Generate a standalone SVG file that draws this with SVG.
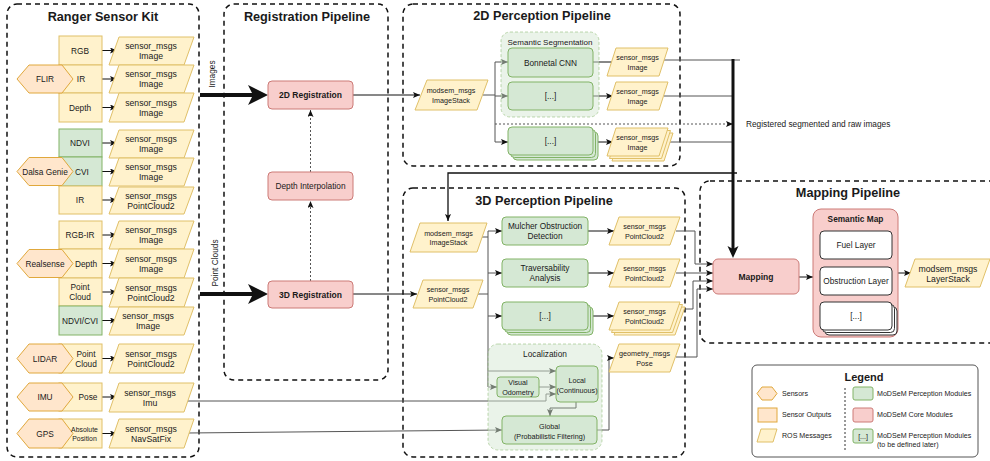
<svg xmlns="http://www.w3.org/2000/svg" width="990" height="461" viewBox="0 0 990 461">
  <defs>
    <style>
      text { font-family: "Liberation Sans", Arial, Helvetica, sans-serif; fill: #1a1a1a; }
      .panel { fill: none; stroke: #111; stroke-width: 1.5; stroke-dasharray: 5 4; }
      .title { font-size: 12.7px; font-weight: bold; text-anchor: middle; dominant-baseline: central; }
      .t { font-size: 8.3px; text-anchor: middle; dominant-baseline: central; }
      .ts { font-size: 7.2px; text-anchor: middle; dominant-baseline: central; }
      .tm { font-size: 8.7px; text-anchor: middle; dominant-baseline: central; }
      .tb { font-size: 8.5px; font-weight: bold; text-anchor: middle; dominant-baseline: central; }
      .tl { font-size: 7.1px; text-anchor: start; dominant-baseline: central; }
      .out { fill: #fff2cc; stroke: #e0c068; stroke-width: 1; }
      .hex { fill: #ffe6cc; stroke: #e0a83c; stroke-width: 1; }
      .msg { fill: #fff2cc; stroke: #e0c068; stroke-width: 1; }
      .green { fill: #d5e8d4; stroke: #82b366; stroke-width: 1; }
      .red { fill: #f8cecc; stroke: #cc7a77; stroke-width: 1; }
      .white { fill: #fff; stroke: #333; stroke-width: 1; }
      .group { fill: #d5e8d4; fill-opacity: 0.5; stroke: #82b366; stroke-opacity: 0.5; stroke-dasharray: 3 2; }
      .ln { fill: none; stroke: #111; stroke-width: 1; }
      .gl { fill: none; stroke: #555; stroke-width: 1; }
      .dot { fill: none; stroke: #555; stroke-width: 1; stroke-dasharray: 2 2; }
    </style>
    <marker id="arr" markerWidth="8" markerHeight="7" refX="7" refY="3" orient="auto" markerUnits="userSpaceOnUse">
      <path d="M0,0 L7,3 L0,6 L1.5,3 z" fill="#111"/>
    </marker>
    <marker id="big" markerWidth="21" markerHeight="21" refX="8" refY="10" orient="auto" markerUnits="userSpaceOnUse">
      <path d="M0,0 L20,10 L0,20 L5,10 z" fill="#111"/>
    </marker>
    <marker id="mid" markerWidth="13" markerHeight="12" refX="5" refY="5.5" orient="auto" markerUnits="userSpaceOnUse">
      <path d="M0,0 L12,5.5 L0,11 L3,5.5 z" fill="#111"/>
    </marker>
  </defs>

  <rect width="990" height="461" fill="#fff"/>

  <!-- pipeline frames -->
  <g id="frames">
    <rect class="panel" x="7" y="4" width="192" height="453" rx="10"/>
    <text class="title" x="103" y="17">Ranger Sensor Kit</text>
    <rect class="panel" x="224" y="4" width="164" height="376" rx="10"/>
    <text class="title" x="307" y="17">Registration Pipeline</text>
    <rect class="panel" x="403" y="4" width="277" height="162" rx="10"/>
    <text class="title" x="542" y="16">2D Perception Pipeline</text>
    <rect class="panel" x="403" y="188" width="282" height="269" rx="10"/>
    <text class="title" x="544" y="201">3D Perception Pipeline</text>
    <rect class="panel" x="700" y="181" width="300" height="162" rx="10"/>
    <text class="title" x="848" y="193">Mapping Pipeline</text>
  </g>

  <!-- connectors -->
  <g id="connectors">
    <!-- sensor outputs to ROS messages -->
    <line class="ln" x1="102" y1="50.5" x2="117" y2="50.5" marker-end="url(#arr)"/>
    <line class="ln" x1="102" y1="79" x2="117" y2="79" marker-end="url(#arr)"/>
    <line class="ln" x1="102" y1="107.5" x2="117" y2="107.5" marker-end="url(#arr)"/>
    <line class="ln" x1="102" y1="143" x2="117" y2="143" marker-end="url(#arr)"/>
    <line class="ln" x1="102" y1="171.5" x2="117" y2="171.5" marker-end="url(#arr)"/>
    <line class="ln" x1="102" y1="200" x2="117" y2="200" marker-end="url(#arr)"/>
    <line class="ln" x1="102" y1="235" x2="117" y2="235" marker-end="url(#arr)"/>
    <line class="ln" x1="102" y1="263.5" x2="117" y2="263.5" marker-end="url(#arr)"/>
    <line class="ln" x1="102" y1="292" x2="117" y2="292" marker-end="url(#arr)"/>
    <line class="ln" x1="102" y1="320.5" x2="117" y2="320.5" marker-end="url(#arr)"/>
    <line class="ln" x1="102" y1="358.5" x2="117" y2="358.5" marker-end="url(#arr)"/>
    <line class="ln" x1="102" y1="397" x2="117" y2="397" marker-end="url(#arr)"/>
    <line class="ln" x1="102" y1="433.5" x2="117" y2="433.5" marker-end="url(#arr)"/>

    <!-- bundled inputs into registration -->
    <line x1="200" y1="95" x2="256" y2="95" stroke="#111" stroke-width="4" marker-end="url(#big)"/>
    <line x1="200" y1="294" x2="256" y2="294" stroke="#111" stroke-width="4" marker-end="url(#big)"/>
    <text class="t" transform="translate(212,74) rotate(-90)">Images</text>
    <text class="t" transform="translate(215,263) rotate(-90)">Point Clouds</text>

    <!-- registration internals -->
    <line class="dot" x1="310.5" y1="281" x2="310.5" y2="201" marker-end="url(#arr)"/>
    <line class="dot" x1="310.5" y1="172" x2="310.5" y2="110" marker-end="url(#arr)"/>

    <!-- registration outputs -->
    <line class="ln" x1="353" y1="95" x2="420" y2="95" marker-end="url(#arr)"/>
    <line class="ln" x1="353" y1="294" x2="417" y2="294" marker-end="url(#arr)"/>

    <!-- 2D perception fan-out -->
    <polyline class="gl" points="483,95 495,95"/>
    <line class="gl" x1="495" y1="62" x2="495" y2="142"/>
    <line class="gl" x1="495" y1="62" x2="508" y2="62" marker-end="url(#arr)"/>
    <line class="gl" x1="495" y1="96" x2="508" y2="96" marker-end="url(#arr)"/>
    <line class="gl" x1="495" y1="142" x2="508" y2="142" marker-end="url(#arr)"/>
    <line class="dot" x1="495" y1="124" x2="733" y2="124" marker-end="url(#arr)"/>
    <text class="t" x="746" y="124" style="text-anchor:start">Registered segmented and raw images</text>
    <line class="ln" x1="593" y1="62" x2="612" y2="62"/>
    <line class="ln" x1="593" y1="96" x2="613" y2="96" marker-end="url(#arr)"/>
    <line class="ln" x1="598" y1="142" x2="613" y2="142" marker-end="url(#arr)"/>
    <line class="gl" x1="664" y1="60" x2="740" y2="60"/>
    <line class="gl" x1="664" y1="96" x2="733" y2="96"/>
    <line class="gl" x1="668" y1="142" x2="733" y2="142"/>

    <!-- 2D results to mapping and back into 3D perception -->
    <line x1="733" y1="59" x2="733" y2="251" stroke="#111" stroke-width="3" marker-end="url(#mid)"/>
    <polyline class="ln" points="737,173 448,173 448,221" style="stroke-width:1.3" marker-end="url(#arr)"/>

    <!-- 3D perception fan-out -->
    <line class="gl" x1="482" y1="237" x2="488" y2="237"/>
    <line class="gl" x1="478" y1="294" x2="488" y2="294"/>
    <line class="gl" x1="488" y1="231" x2="488" y2="387"/>
    <line class="gl" x1="488" y1="231" x2="502" y2="231" marker-end="url(#arr)"/>
    <line class="gl" x1="488" y1="273" x2="502" y2="273" marker-end="url(#arr)"/>
    <line class="gl" x1="488" y1="316" x2="502" y2="316" marker-end="url(#arr)"/>
    <line class="gl" x1="488" y1="371" x2="556" y2="371" marker-end="url(#arr)"/>
    <line class="gl" x1="488" y1="387" x2="497" y2="387" marker-end="url(#arr)"/>
    <line class="ln" x1="588" y1="231" x2="614" y2="231" marker-end="url(#arr)"/>
    <line class="ln" x1="588" y1="273" x2="614" y2="273" marker-end="url(#arr)"/>
    <line class="ln" x1="593" y1="316" x2="614" y2="316" marker-end="url(#arr)"/>

    <!-- localization -->
    <line class="gl" x1="539" y1="387" x2="556" y2="387" marker-end="url(#arr)"/>
    <polyline class="gl" points="188,401 546,401 546,394 556,394" marker-end="url(#arr)"/>
    <polyline class="ln" points="576,402 576,408 550,408 550,416" marker-end="url(#arr)"/>
    <line class="gl" x1="187" y1="433" x2="502" y2="430" marker-end="url(#arr)"/>
    <polyline class="gl" points="597,430 609,430 609,358 614,358" marker-end="url(#arr)"/>

    <!-- 3D results into mapping -->
    <polyline class="gl" points="676,231 695,231 695,264 713,264" marker-end="url(#arr)"/>
    <line class="gl" x1="676" y1="273" x2="713" y2="273" marker-end="url(#arr)"/>
    <polyline class="gl" points="679,309 693,309 693,281 713,281" marker-end="url(#arr)"/>
    <polyline class="gl" points="676,357 697,357 697,289 713,289" marker-end="url(#arr)"/>

    <!-- mapping -->
    <line class="ln" x1="799" y1="277" x2="813" y2="277" marker-end="url(#arr)"/>
    <line class="ln" x1="898" y1="273" x2="911" y2="273" marker-end="url(#arr)"/>
  </g>

  <!-- FLIR -->
  <g id="flir">
    <rect class="out" x="59" y="36" width="43" height="29"/>
    <rect class="out" x="59" y="65" width="43" height="28"/>
    <rect class="out" x="59" y="93" width="43" height="29"/>
    <polygon class="hex" points="17,79 29,65 62,65 73,79 62,93 29,93"/>
    <text class="t" x="80" y="50.5">RGB</text>
    <text class="t" x="81" y="79">IR</text>
    <text class="t" x="80" y="107.5">Depth</text>
    <text class="t" x="45" y="79">FLIR</text>
  </g>
  <!-- Dalsa Genie -->
  <g id="dalsa">
    <rect class="green" x="59" y="129" width="43" height="28"/>
    <rect class="green" x="59" y="157" width="43" height="29"/>
    <rect class="out" x="59" y="186" width="43" height="28"/>
    <polygon class="hex" points="17,171.5 29,157.5 62,157.5 73,171.5 62,185.5 29,185.5"/>
    <text class="t" x="80" y="143">NDVI</text>
    <text class="t" x="82" y="171.5">CVI</text>
    <text class="t" x="80" y="200">IR</text>
    <text class="t" x="45" y="171.5">Dalsa Genie</text>
  </g>
  <!-- Realsense -->
  <g id="realsense">
    <rect class="out" x="59" y="221" width="43" height="28"/>
    <rect class="out" x="59" y="249" width="43" height="29"/>
    <rect class="out" x="59" y="278" width="43" height="28"/>
    <rect class="green" x="59" y="306" width="43" height="29"/>
    <polygon class="hex" points="17,263.5 29,249.5 62,249.5 73,263.5 62,277.5 29,277.5"/>
    <text class="t" x="80" y="235">RGB-IR</text>
    <text class="t" x="86" y="263.5">Depth</text>
    <text class="t" x="80" y="287">Point</text>
    <text class="t" x="80" y="297">Cloud</text>
    <text class="t" x="80" y="320.5">NDVI/CVI</text>
    <text class="t" x="45" y="263.5">Realsense</text>
  </g>
  <!-- LIDAR -->
  <g id="lidar">
    <rect class="out" x="59" y="344" width="43" height="29"/>
    <polygon class="hex" points="17,358.5 29,344 62,344 73,358.5 62,373 29,373"/>
    <text class="t" x="86" y="353.5">Point</text>
    <text class="t" x="86" y="363.5">Cloud</text>
    <text class="t" x="45" y="358.5">LIDAR</text>
  </g>
  <!-- IMU -->
  <g id="imu">
    <rect class="out" x="59" y="383" width="43" height="28"/>
    <polygon class="hex" points="17,397 29,383 62,383 73,397 62,411 29,411"/>
    <text class="t" x="88" y="397">Pose</text>
    <text class="t" x="45" y="397">IMU</text>
  </g>
  <!-- GPS -->
  <g id="gps">
    <rect class="out" x="59" y="419" width="43" height="29"/>
    <polygon class="hex" points="17,433.5 29,419 62,419 73,433.5 62,448 29,448"/>
    <text class="t" x="84.5" y="429" style="font-size:6.9px">Absolute</text>
    <text class="t" x="84.5" y="438" style="font-size:6.9px">Position</text>
    <text class="t" x="45" y="433.5">GPS</text>
  </g>

  <!-- ROS messages published by the sensors -->
  <g id="sensor-msgs">
    <polygon class="msg" points="119,37 194,37 184,65 109,65"/>
    <text class="tm" x="151" y="46">sensor_msgs</text><text class="tm" x="151" y="56">Image</text>
    <polygon class="msg" points="119,65 194,65 184,93 109,93"/>
    <text class="tm" x="151" y="74">sensor_msgs</text><text class="tm" x="151" y="84">Image</text>
    <polygon class="msg" points="119,93 194,93 184,122 109,122"/>
    <text class="tm" x="151" y="102.5">sensor_msgs</text><text class="tm" x="151" y="112.5">Image</text>
    <polygon class="msg" points="119,130 194,130 184,158 109,158"/>
    <text class="tm" x="151" y="139">sensor_msgs</text><text class="tm" x="151" y="149">Image</text>
    <polygon class="msg" points="119,158 194,158 184,186 109,186"/>
    <text class="tm" x="151" y="167">sensor_msgs</text><text class="tm" x="151" y="177">Image</text>
    <polygon class="msg" points="119,187 194,187 184,214 109,214"/>
    <text class="tm" x="151" y="195.5">sensor_msgs</text><text class="tm" x="151" y="205.5">PointCloud2</text>
    <polygon class="msg" points="119,221 194,221 184,249 109,249"/>
    <text class="tm" x="151" y="230">sensor_msgs</text><text class="tm" x="151" y="240">Image</text>
    <polygon class="msg" points="119,249 194,249 184,278 109,278"/>
    <text class="tm" x="151" y="258.5">sensor_msgs</text><text class="tm" x="151" y="268.5">Image</text>
    <polygon class="msg" points="119,278 194,278 184,307 109,307"/>
    <text class="tm" x="151" y="287.5">sensor_msgs</text><text class="tm" x="151" y="297.5">PointCloud2</text>
    <polygon class="msg" points="119,307 194,307 184,335 109,335"/>
    <text class="tm" x="148" y="316">sensor_msgs</text><text class="tm" x="148" y="326">Image</text>
    <polygon class="msg" points="119,344 194,344 184,373 109,373"/>
    <text class="tm" x="151" y="353.5">sensor_msgs</text><text class="tm" x="151" y="363.5">PointCloud2</text>
    <polygon class="msg" points="119,383 194,383 184,412 109,412"/>
    <text class="tm" x="150" y="392.5">sensor_msgs</text><text class="tm" x="150" y="402.5">Imu</text>
    <polygon class="msg" points="119,419 194,419 184,448 109,448"/>
    <text class="tm" x="151" y="428.5">sensor_msgs</text><text class="tm" x="151" y="438.5">NavSatFix</text>
  </g>

  <!-- registration -->
  <g id="reg-2d">
    <rect class="red" x="268" y="81" width="85" height="28" rx="4"/>
    <text class="tb" x="310.5" y="95">2D Registration</text>
  </g>
  <g id="depth-interp">
    <rect class="red" x="268" y="172" width="85" height="28" rx="4"/>
    <text class="t" x="310.5" y="186">Depth Interpolation</text>
  </g>
  <g id="reg-3d">
    <rect class="red" x="268" y="281" width="85" height="27" rx="4"/>
    <text class="tb" x="310.5" y="294.5">3D Registration</text>
  </g>

  <!-- 2D perception -->
  <g id="imagestack-2d">
    <polygon class="msg" points="427,80 488,80 477,110 415,110"/>
    <text class="ts" x="451" y="90.5">modsem_msgs</text><text class="ts" x="451" y="100">ImageStack</text>
  </g>
  <g id="semantic-segmentation">
    <rect class="group" x="501" y="32" width="98" height="85" rx="9"/>
    <text class="t" x="550" y="42" style="font-size:8px">Semantic Segmentation</text>
    <rect class="green" x="508" y="48" width="85" height="29" rx="4"/>
    <text class="t" x="550.5" y="62.5">Bonnetal CNN</text>
    <rect class="green" x="508" y="82" width="85" height="28" rx="4"/>
    <text class="t" x="550.5" y="96">[...]</text>
  </g>
  <g id="seg-other">
    <rect class="green" x="513" y="132" width="85" height="28" rx="4"/>
    <rect class="green" x="510.5" y="129.5" width="85" height="28" rx="4"/>
    <rect class="green" x="508" y="127" width="85" height="28" rx="4"/>
    <text class="t" x="550.5" y="141">[...]</text>
  </g>
  <g id="image-out-1">
    <polygon class="msg" points="616,48 668,48 659,76 607,76"/>
    <text class="ts" x="637.5" y="57.5">sensor_msgs</text><text class="ts" x="637.5" y="67">Image</text>
  </g>
  <g id="image-out-2">
    <polygon class="msg" points="616,82 668,82 659,110 607,110"/>
    <text class="ts" x="637.5" y="91.5">sensor_msgs</text><text class="ts" x="637.5" y="101">Image</text>
  </g>
  <g id="image-out-3">
    <polygon class="msg" points="621,133 673,133 664,161 612,161"/>
    <polygon class="msg" points="618.5,130.5 670.5,130.5 661.5,158.5 609.5,158.5"/>
    <polygon class="msg" points="616,128 668,128 659,156 607,156"/>
    <text class="ts" x="637.5" y="137.5">sensor_msgs</text><text class="ts" x="637.5" y="147">Image</text>
  </g>

  <!-- 3D perception -->
  <g id="imagestack-3d">
    <polygon class="msg" points="420,223 487,223 477,252 410,252"/>
    <text class="ts" x="448.5" y="233">modsem_msgs</text><text class="ts" x="448.5" y="242.5">ImageStack</text>
  </g>
  <g id="pointcloud-in">
    <polygon class="msg" points="423,280 483,280 473,308 413,308"/>
    <text class="ts" x="448" y="289.5">sensor_msgs</text><text class="ts" x="448" y="299">PointCloud2</text>
  </g>
  <g id="mulcher">
    <rect class="green" x="502" y="217" width="86" height="28" rx="4"/>
    <text class="t" x="545" y="226">Mulcher Obstruction</text>
    <text class="t" x="545" y="236">Detection</text>
  </g>
  <g id="traversability">
    <rect class="green" x="502" y="259" width="86" height="28" rx="4"/>
    <text class="t" x="545" y="268">Traversability</text>
    <text class="t" x="545" y="278">Analysis</text>
  </g>
  <g id="perception-3d-other">
    <rect class="green" x="507" y="307" width="86" height="28" rx="4"/>
    <rect class="green" x="504.5" y="304.5" width="86" height="28" rx="4"/>
    <rect class="green" x="502" y="302" width="86" height="28" rx="4"/>
    <text class="t" x="545" y="316">[...]</text>
  </g>
  <g id="pointcloud-out-1">
    <polygon class="msg" points="619,217 680,217 670,245 609,245"/>
    <text class="ts" x="644.5" y="226.5">sensor_msgs</text><text class="ts" x="644.5" y="236">PointCloud2</text>
  </g>
  <g id="pointcloud-out-2">
    <polygon class="msg" points="619,259 680,259 670,287 609,287"/>
    <text class="ts" x="644.5" y="268.5">sensor_msgs</text><text class="ts" x="644.5" y="278">PointCloud2</text>
  </g>
  <g id="pointcloud-out-3">
    <polygon class="msg" points="624,307 685,307 675,335 614,335"/>
    <polygon class="msg" points="621.5,304.5 682.5,304.5 672.5,332.5 611.5,332.5"/>
    <polygon class="msg" points="619,302 680,302 670,330 609,330"/>
    <text class="ts" x="644.5" y="311.5">sensor_msgs</text><text class="ts" x="644.5" y="321">PointCloud2</text>
  </g>
  <g id="localization">
    <rect class="group" x="488" y="344" width="114" height="106" rx="10"/>
    <text class="t" x="545" y="354">Localization</text>
  </g>
  <g id="visual-odometry">
    <rect class="green" x="497" y="377" width="42" height="20" rx="3"/>
    <text class="ts" x="518" y="382.5">Visual</text>
    <text class="ts" x="518" y="392">Odometry</text>
  </g>
  <g id="local">
    <rect class="green" x="556" y="366" width="42" height="36" rx="4"/>
    <text class="ts" x="577" y="380">Local</text>
    <text class="ts" x="577" y="390">(Continuous)</text>
  </g>
  <g id="global">
    <rect class="green" x="502" y="416" width="95" height="28" rx="4"/>
    <text class="ts" x="549.5" y="426">Global</text>
    <text class="ts" x="549.5" y="436">(Probabilistic Filtering)</text>
  </g>
  <g id="pose-out">
    <polygon class="msg" points="619,344 680,344 670,372 609,372"/>
    <text class="ts" x="644.5" y="353.5">geometry_msgs</text><text class="ts" x="644.5" y="363">Pose</text>
  </g>

  <!-- mapping -->
  <g id="mapping">
    <rect class="red" x="713" y="259" width="86" height="35" rx="5"/>
    <text class="tb" x="756" y="276.5">Mapping</text>
  </g>
  <g id="semantic-map">
    <rect class="red" x="813" y="209" width="85" height="128" rx="8"/>
    <text class="tb" x="855.5" y="219" style="font-size:8.3px">Semantic Map</text>
    <rect class="white" x="820" y="231" width="72" height="28" rx="4"/>
    <text class="t" x="856" y="245">Fuel Layer</text>
    <rect class="white" x="820" y="267" width="72" height="28" rx="4"/>
    <text class="t" x="856" y="281">Obstruction Layer</text>
    <rect class="white" x="825" y="307" width="72" height="28" rx="4"/>
    <rect class="white" x="822.5" y="304.5" width="72" height="28" rx="4"/>
    <rect class="white" x="820" y="302" width="72" height="28" rx="4"/>
    <text class="t" x="856" y="316">[...]</text>
  </g>
  <g id="layerstack">
    <polygon class="msg" points="915,259 990,259 980,287 905,287"/>
    <text class="tm" x="948" y="268.5">modsem_msgs</text><text class="tm" x="948" y="279">LayerStack</text>
  </g>

  <!-- legend -->
  <g id="legend">
    <rect x="752" y="365" width="226" height="92" rx="5" fill="#fff" stroke="#555" stroke-width="1"/>
    <text x="864" y="377" style="font-size:11px;font-weight:bold;text-anchor:middle;dominant-baseline:central">Legend</text>
    <polygon class="hex" points="757,393.5 762,387 772,387 777,393.5 772,400 762,400"/>
    <text class="tl" x="782" y="393.5">Sensors</text>
    <rect x="758" y="408" width="19" height="14" fill="#ffe6cc" stroke="#e0a83c"/>
    <text class="tl" x="782" y="415">Sensor Outputs</text>
    <polygon class="msg" points="761,429 777,429 773,442 757,442"/>
    <text class="tl" x="782" y="436">ROS Messages</text>
    <line x1="845" y1="388" x2="845" y2="452" stroke="#333" stroke-width="1" stroke-dasharray="2 2"/>
    <rect class="green" x="853" y="387" width="20" height="13" rx="2"/>
    <text class="tl" x="877" y="393.5">MoDSeM Perception Modules</text>
    <rect class="red" x="853" y="408" width="20" height="14" rx="2"/>
    <text class="tl" x="877" y="415">MoDSeM Core Modules</text>
    <rect class="green" x="853" y="429" width="20" height="14" rx="2"/>
    <text x="863" y="436" style="font-size:7px;text-anchor:middle;dominant-baseline:central">[...]</text>
    <text class="tl" x="877" y="436">MoDSeM Perception Modules</text>
    <text class="tl" x="877" y="445">(to be defined later)</text>
  </g>
</svg>
